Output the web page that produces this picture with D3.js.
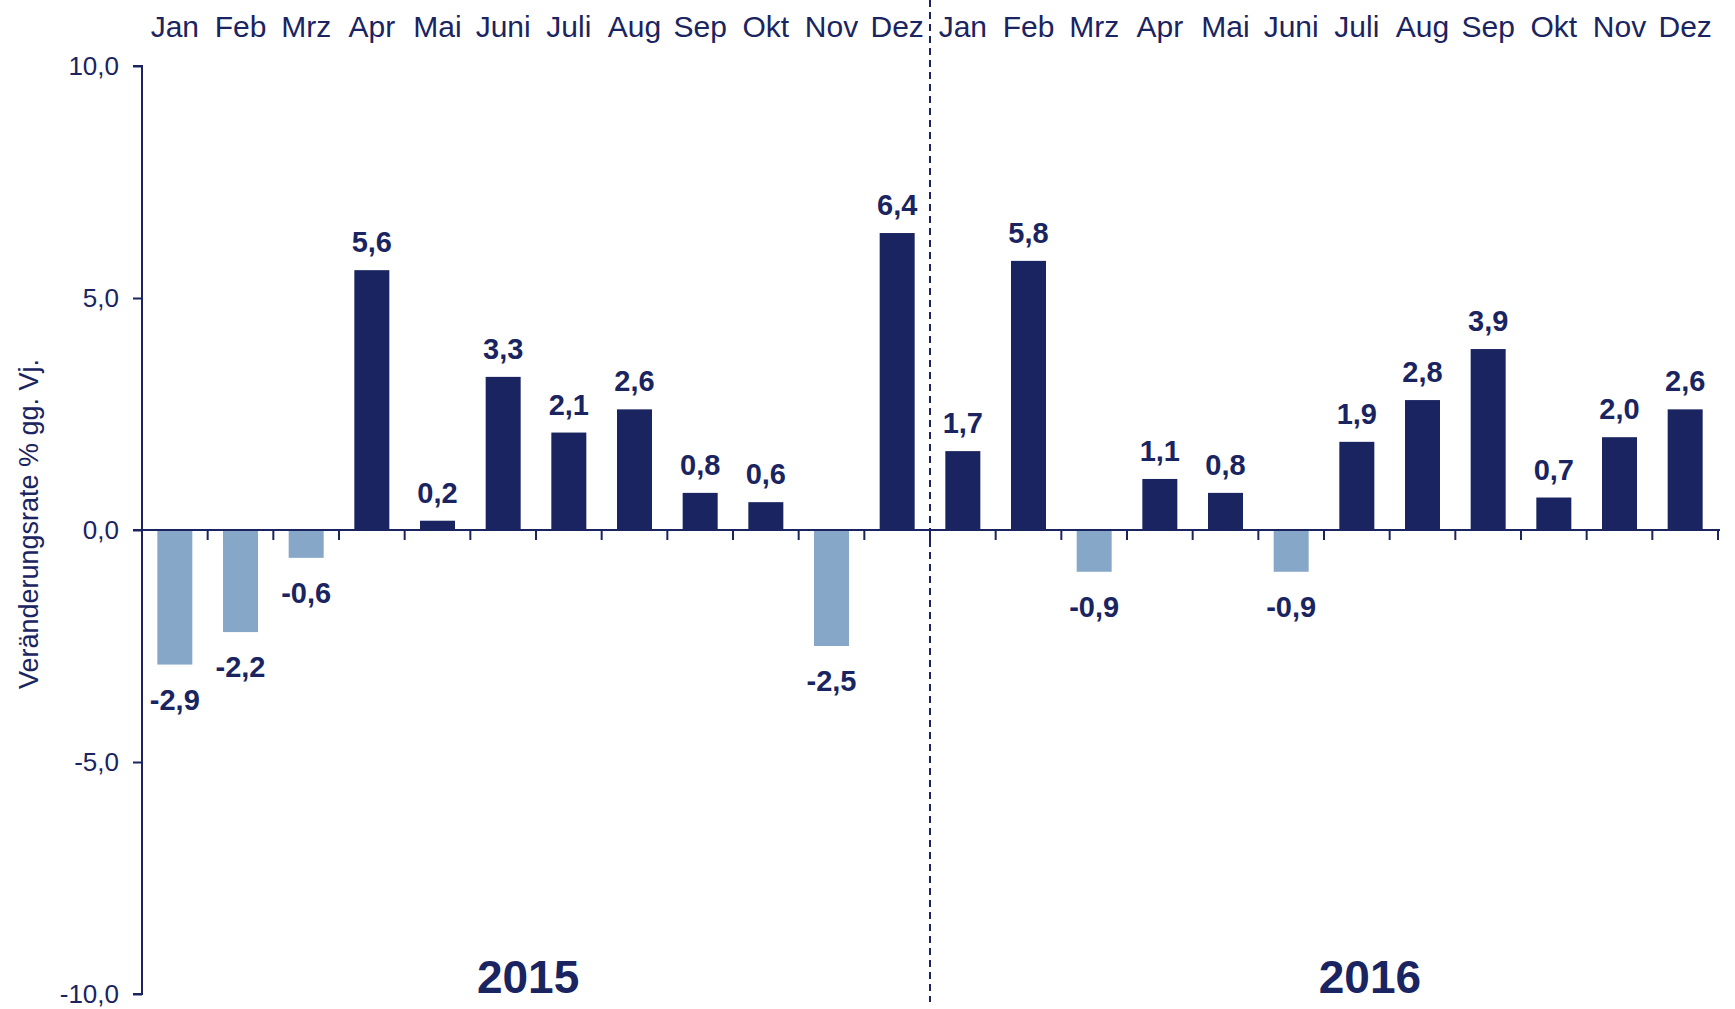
<!DOCTYPE html>
<html>
<head>
    <meta charset="utf-8">
    <title>Veränderungsrate % gg. Vj. 2015-2016</title>
    <script src="https://d3js.org/d3.v7.min.js"></script>
    <style>
        body {
            margin: 0;
            padding: 0;
            background: #fff;
            overflow: hidden;
        }
        svg text {
            font-family: "Liberation Sans", Arial, sans-serif;
            fill: #1a2460;
        }
        .value-label {
            font-weight: bold;
            font-size: 29px;
        }
        .year-label {
            font-weight: bold;
            font-size: 46px;
        }
    </style>
</head>
<body>
    <div id="chart"></div>

    <script>
        // Data
        const months = ["Jan", "Feb", "Mrz", "Apr", "Mai", "Juni", "Juli", "Aug", "Sep", "Okt", "Nov", "Dez"];
        const years = ["2015", "2016"];
        const values2015 = [-2.9, -2.2, -0.6, 5.6, 0.2, 3.3, 2.1, 2.6, 0.8, 0.6, -2.5, 6.4];
        const values2016 = [1.7, 5.8, -0.9, 1.1, 0.8, -0.9, 1.9, 2.8, 3.9, 0.7, 2.0, 2.6];
        const yTicks = [10, 5, 0, -5, -10];
        const yTitle = "Veränderungsrate % gg. Vj.";

        const width = 1735;
        const height = 1009;
        const navy = "#1a2460";
        const lightBlue = "#87a7c8";

        const data = [];
        [values2015, values2016].forEach((vals, yi) => {
            vals.forEach((v, mi) => {
                data.push({ idx: yi * 12 + mi, month: months[mi], year: years[yi], value: v });
            });
        });

        const svg = d3.select("#chart")
            .append("svg")
            .attr("width", width)
            .attr("height", height);

        const plotLeft = 142, plotRight = 1718;
        const pad = 0.467;

        const x = d3.scaleBand()
            .domain(d3.range(data.length))
            .range([plotLeft, plotRight])
            .paddingInner(pad)
            .paddingOuter(pad / 2);

        const y = d3.scaleLinear()
            .domain([-10, 10])
            .range([994, 66]);

        const fmt = v => d3.format(".1f")(v).replace(".", ",").replace("−", "-");
        const step = x.step();

        // bars
        svg.append("g")
            .selectAll("rect")
            .data(data)
            .enter()
            .append("rect")
            .attr("x", d => x(d.idx))
            .attr("width", x.bandwidth())
            .attr("y", d => y(Math.max(0, d.value)))
            .attr("height", d => Math.abs(y(d.value) - y(0)))
            .attr("fill", d => d.value < 0 ? lightBlue : navy);

        // y axis
        const yAxis = svg.append("g")
            .attr("transform", `translate(${plotLeft},0)`)
            .call(d3.axisLeft(y).tickValues(yTicks).tickSize(9).tickPadding(14).tickFormat(fmt));
        yAxis.select(".domain").attr("stroke", navy).attr("stroke-width", 2)
            .attr("d", `M-9,${y(10)}H0V${y(-10)}H-9`);
        yAxis.selectAll(".tick line").attr("stroke", navy).attr("stroke-width", 2);
        yAxis.selectAll(".tick text")
            .attr("font-size", 26)
            .attr("fill", navy)
            .style("font-family", "'Liberation Sans', Arial, sans-serif");

        // zero line with category ticks
        const zeroAxis = svg.append("g")
            .attr("transform", `translate(0,${y(0)})`);
        zeroAxis.append("line")
            .attr("x1", plotLeft - 9)
            .attr("x2", plotRight + 2)
            .attr("stroke", navy)
            .attr("stroke-width", 2);
        zeroAxis.selectAll(".cat-tick")
            .data(d3.range(1, data.length + 1))
            .enter()
            .append("line")
            .attr("class", "cat-tick")
            .attr("x1", i => plotLeft + i * step)
            .attr("x2", i => plotLeft + i * step)
            .attr("y1", 0)
            .attr("y2", 10)
            .attr("stroke", navy)
            .attr("stroke-width", 2);

        // separator between years
        svg.append("line")
            .attr("x1", plotLeft + 12 * step)
            .attr("x2", plotLeft + 12 * step)
            .attr("y1", 0)
            .attr("y2", 1002)
            .attr("stroke", navy)
            .attr("stroke-width", 2)
            .attr("stroke-dasharray", "7,5");

        // month labels along top
        svg.append("g")
            .selectAll("text")
            .data(data)
            .enter()
            .append("text")
            .attr("x", d => x(d.idx) + x.bandwidth() / 2)
            .attr("y", 37)
            .attr("text-anchor", "middle")
            .attr("font-size", 30)
            .text(d => d.month);

        // value labels
        svg.append("g")
            .selectAll("text")
            .data(data)
            .enter()
            .append("text")
            .attr("class", "value-label")
            .attr("x", d => x(d.idx) + x.bandwidth() / 2)
            .attr("y", d => d.value >= 0 ? y(d.value) - 18 : y(d.value) + 45)
            .attr("text-anchor", "middle")
            .text(d => fmt(d.value));

        // year labels
        const yearPos = [5.88, 18.7];
        svg.append("g")
            .selectAll("text")
            .data(years)
            .enter()
            .append("text")
            .attr("class", "year-label")
            .attr("x", (d, i) => plotLeft + yearPos[i] * step)
            .attr("y", 993)
            .attr("text-anchor", "middle")
            .text(d => d);

        // y axis title
        svg.append("text")
            .attr("transform", `translate(38,524) rotate(-90)`)
            .attr("text-anchor", "middle")
            .attr("font-size", 27)
            .text(yTitle);
    </script>
</body>
</html>
